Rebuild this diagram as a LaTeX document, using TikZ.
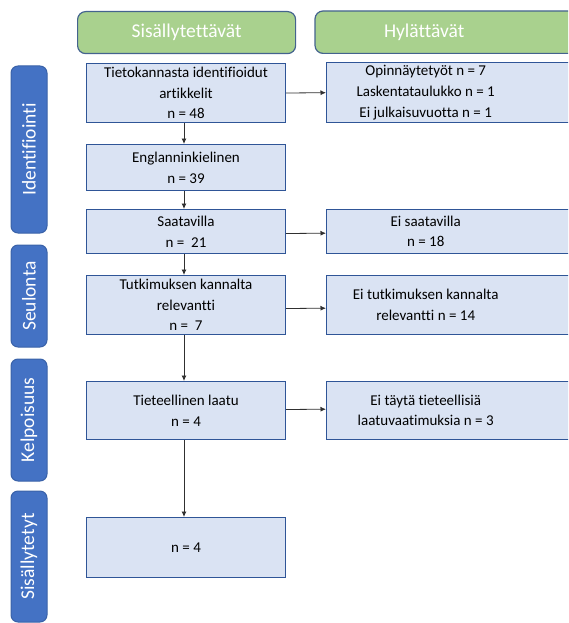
\documentclass[tikz,border=0pt]{standalone}
\usepackage{fontspec}
\setmainfont{Carlito}[Ligatures={NoCommon}]
\usetikzlibrary{arrows.meta}

\definecolor{stepfill}{HTML}{DAE3F3}
\definecolor{stepline}{HTML}{2F5597}
\definecolor{phasefill}{HTML}{4472C4}
\definecolor{phaseline}{HTML}{3A62A8}
\definecolor{headfill}{HTML}{A9D18E}
\definecolor{headline}{HTML}{44638E}
\definecolor{arrowgray}{HTML}{303030}

\tikzset{
  stepbox/.style={draw=stepline, fill=stepfill, line width=1pt, minimum width=199pt,
    inner sep=0pt, align=center, font=\fontsize{15}{20.7}\selectfont, anchor=north west},
  steptext/.style={minimum width=199pt, inner sep=0pt, align=center,
    font=\fontsize{15}{20.7}\selectfont, anchor=north west},
  sideback/.style={draw=stepline, fill=stepfill, line width=1pt},
  phase/.style={draw=phaseline, fill=phasefill, line width=1pt, rounded corners=7pt,
    rotate=90, minimum height=36pt, inner sep=0pt, text=white,
    font=\fontsize{19.5}{22}\selectfont},
  headbox/.style={draw=headline, fill=headfill, line width=1.2pt, rounded corners=8pt,
    minimum width=218pt, minimum height=42pt, inner sep=0pt, text=white,
    font=\fontsize{19.5}{22}\selectfont, anchor=north west},
  headtext/.style={minimum width=218pt, minimum height=42pt, inner sep=0pt, text=white,
    font=\fontsize{19.5}{22}\selectfont, anchor=north west},
  flow/.style={draw=arrowgray, line width=0.8pt, -{Latex[length=5.5pt,width=5pt]}}
}

\begin{document}
\begin{tikzpicture}[x=1pt, y=-1pt]
\useasboundingbox (0,0) rectangle (568,623);
\clip (0,0) rectangle (568,623);

% column headers (the right one runs past the edge)
\node[headbox] (hin) at (77,11) {Sisällytettävät};
\node[headtext] (hout) at (315,11) {};
\path[draw=headline, fill=headfill, line width=1.2pt, rounded corners=8pt]
  (hout.north west) rectangle ([xshift=60pt]hout.south east);
\node[headtext] at (315,11) {Hylättävät};

% phase labels on the left
\node[phase, minimum width=167pt] (pid) at (29,149.5) {Identifiointi};
\node[phase, minimum width=102pt] (pseu) at (29,296) {Seulonta};
\node[phase, minimum width=122pt] (pkel) at (29,420) {Kelpoisuus};
\node[phase, minimum width=131pt] (psis) at (29,556.5) {Sisällytetyt};

% included articles
\node[stepbox, minimum height=59pt] (b1) at (86,63) {Tietokannasta identifioidut\\artikkelit\\n = 48};
\node[stepbox, minimum height=46pt] (b2) at (86,144) {Englanninkielinen\\n = 39};
\node[stepbox, minimum height=44pt] (b3) at (86,209) {Saatavilla\\n =\ \ 21};
\node[stepbox, minimum height=59pt] (b4) at (86,275) {Tutkimuksen kannalta\\relevantti\\n =\ \ 7};
\node[stepbox, minimum height=58pt] (b5) at (86,381) {Tieteellinen laatu\\n = 4};
\node[stepbox, minimum height=60pt] (b6) at (86,517) {n = 4};

% excluded articles (boxes run past the right edge)
\node[steptext, minimum height=59pt] (r1) at (326,63) {};
\node[steptext, minimum height=44pt] (r2) at (326,209) {};
\node[steptext, minimum height=59pt] (r3) at (326,275) {};
\node[steptext, minimum height=58pt] (r4) at (326,381) {};
\foreach \r in {r1,r2,r3,r4}
  \path[sideback] (\r.north west) rectangle ([xshift=60pt]\r.south east);
\node[steptext, minimum height=59pt] at (326,63) {Opinnäytetyöt n = 7\\Laskentataulukko n = 1\\Ei julkaisuvuotta n = 1};
\node[steptext, minimum height=44pt] at (326,209) {Ei saatavilla\\n = 18};
\node[steptext, minimum height=59pt] at (326,275) {Ei tutkimuksen kannalta\\relevantti n = 14};
\node[steptext, minimum height=58pt] at (326,381) {Ei täytä tieteellisiä\\laatuvaatimuksia n = 3};

% downward flow
\draw[flow] ([xshift=-2pt]b1.south) -- ([xshift=-2pt]b2.north);
\draw[flow] ([xshift=-2pt]b2.south) -- ([xshift=-2pt]b3.north);
\draw[flow] ([xshift=-2pt]b3.south) -- ([xshift=-2pt]b4.north);
\draw[flow] ([xshift=-2pt]b4.south) -- ([xshift=-2pt]b5.north);
\draw[flow] ([xshift=-2pt]b5.south) -- ([xshift=-2pt]b6.north);

% exclusions
\draw[flow] (b1.east) -- (r1.west);
\draw[flow] ([yshift=-2pt]b3.east) -- ([yshift=-2pt]r2.west);
\draw[flow] ([yshift=-3.5pt]b4.east) -- ([yshift=-3.5pt]r3.west);
\draw[flow] ([yshift=1pt]b5.east) -- ([yshift=1pt]r4.west);
\end{tikzpicture}
\end{document}
